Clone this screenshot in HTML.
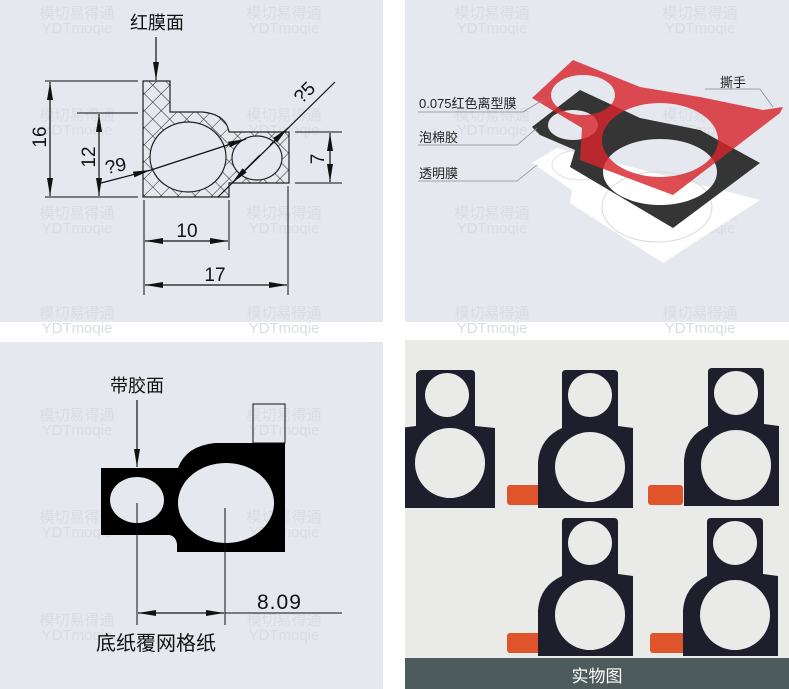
<!DOCTYPE html>
<html><head><meta charset="utf-8"><style>
html,body{margin:0;padding:0;background:#fff;}
svg{display:block;}
text{font-family:"Liberation Sans","Noto Sans CJK SC",sans-serif;}
.wm{fill:#d9dce3;font-size:15px;}
</style></head><body>
<svg width="789" height="689" viewBox="0 0 789 689" xmlns="http://www.w3.org/2000/svg">
<defs>
<pattern id="hx" width="12" height="12" patternUnits="userSpaceOnUse" patternTransform="rotate(45)">
<rect width="12" height="12" fill="#e6e8ee"/>
<line x1="0" y1="0" x2="0" y2="12" stroke="#222" stroke-width="1"/>
<line x1="0" y1="0" x2="12" y2="0" stroke="#222" stroke-width="1"/>
</pattern>
<marker id="ar2" viewBox="0 0 18 6" refX="18" refY="3" markerWidth="18" markerHeight="6" orient="auto" markerUnits="userSpaceOnUse"><path d="M0,0 L18,3 L0,6 Z" fill="#111"/></marker>
<path id="card" fill-rule="evenodd" fill="#1e1e2c" d="M4,0 H52 Q56,0 56,4 V56 L71,58 V138 H-24 V92 Q-22,68 0,58 V4 Q0,0 4,0 Z M28,3 a22,22 0 1,0 0.01,0 Z M28,62 a35,35 0 1,0 0.01,0 Z"/>
<clipPath id="ph"><rect x="405" y="340" width="384" height="318"/></clipPath>
</defs>

<rect x="0" y="0" width="383" height="322" fill="#e5e8ee"/>
<rect x="405" y="0" width="384" height="322" fill="#e5e8ee"/>
<rect x="0" y="342" width="383" height="347" fill="#e5e8ee"/>
<rect x="405" y="340" width="384" height="318" fill="#eaeae8"/>
<rect x="405" y="658" width="384" height="31" fill="#4d5b5d"/>

<g class="wm" text-anchor="middle">
<text x="77" y="18">模切易得通</text><text x="77" y="33">YDTmoqie</text>
<text x="284" y="18">模切易得通</text><text x="284" y="33">YDTmoqie</text>
<text x="77" y="120">模切易得通</text><text x="77" y="135">YDTmoqie</text>
<text x="284" y="120">模切易得通</text><text x="284" y="135">YDTmoqie</text>
<text x="77" y="218">模切易得通</text><text x="77" y="233">YDTmoqie</text>
<text x="284" y="218">模切易得通</text><text x="284" y="233">YDTmoqie</text>
<text x="77" y="318">模切易得通</text><text x="77" y="333">YDTmoqie</text>
<text x="284" y="318">模切易得通</text><text x="284" y="333">YDTmoqie</text>
<text x="492" y="18">模切易得通</text><text x="492" y="33">YDTmoqie</text>
<text x="700" y="18">模切易得通</text><text x="700" y="33">YDTmoqie</text>
<text x="492" y="120">模切易得通</text><text x="492" y="135">YDTmoqie</text>
<text x="700" y="120">模切易得通</text><text x="700" y="135">YDTmoqie</text>
<text x="492" y="218">模切易得通</text><text x="492" y="233">YDTmoqie</text>
<text x="700" y="218">模切易得通</text><text x="700" y="233">YDTmoqie</text>
<text x="492" y="318">模切易得通</text><text x="492" y="333">YDTmoqie</text>
<text x="700" y="318">模切易得通</text><text x="700" y="333">YDTmoqie</text>
<text x="77" y="420">模切易得通</text><text x="77" y="435">YDTmoqie</text>
<text x="284" y="420">模切易得通</text><text x="284" y="435">YDTmoqie</text>
<text x="77" y="522">模切易得通</text><text x="77" y="537">YDTmoqie</text>
<text x="284" y="522">模切易得通</text><text x="284" y="537">YDTmoqie</text>
<text x="77" y="625">模切易得通</text><text x="77" y="640">YDTmoqie</text>
<text x="284" y="625">模切易得通</text><text x="284" y="640">YDTmoqie</text>
</g>

<text x="157" y="29" font-size="18" text-anchor="middle" fill="#111">红膜面</text>
<line x1="156" y1="37" x2="156" y2="80" stroke="#111" stroke-width="1.2" marker-end="url(#ar2)"/>
<path fill="url(#hx)" fill-rule="evenodd" stroke="#222" stroke-width="1.2"
 d="M143,81 H170 V112 H202 Q226,114 229,132 H289 V183 H229 V197 H143 Z
    M188,122 a38,35 0 1,0 0.01,0 Z M257,136 a25,22 0 1,0 0.01,0 Z"/>
<g stroke="#111" stroke-width="1" fill="none">
<line x1="45" y1="81" x2="138" y2="81"/><line x1="45" y1="197" x2="138" y2="197"/>
<line x1="77" y1="113" x2="138" y2="113"/>
<line x1="295" y1="132" x2="342" y2="132"/><line x1="295" y1="183" x2="342" y2="183"/>
<line x1="144" y1="200" x2="144" y2="295"/><line x1="229" y1="200" x2="229" y2="250"/>
<line x1="288" y1="186" x2="288" y2="295"/>
</g>
<g stroke="#111" stroke-width="1.2">
<line x1="50" y1="140" x2="50" y2="82" marker-end="url(#ar2)"/><line x1="50" y1="140" x2="50" y2="196" marker-end="url(#ar2)"/>
<line x1="99" y1="155" x2="99" y2="114" marker-end="url(#ar2)"/><line x1="99" y1="155" x2="99" y2="196" marker-end="url(#ar2)"/>
<line x1="330" y1="158" x2="330" y2="133" marker-end="url(#ar2)"/><line x1="330" y1="158" x2="330" y2="182" marker-end="url(#ar2)"/>
<line x1="186" y1="241" x2="145" y2="241" marker-end="url(#ar2)"/><line x1="186" y1="241" x2="228" y2="241" marker-end="url(#ar2)"/>
<line x1="216" y1="285" x2="145" y2="285" marker-end="url(#ar2)"/><line x1="216" y1="285" x2="287" y2="285" marker-end="url(#ar2)"/>
<line x1="101" y1="183" x2="151" y2="170" marker-end="url(#ar2)"/><line x1="151" y1="170" x2="246" y2="139" marker-end="url(#ar2)"/>
<line x1="335" y1="82" x2="218" y2="197"/>
<line x1="270" y1="145" x2="288" y2="128" marker-end="url(#ar2)"/><line x1="260" y1="155" x2="232" y2="183" marker-end="url(#ar2)"/>
</g>
<g font-family="'DejaVu Sans',sans-serif" font-size="19" fill="#111">
<text transform="translate(46,137) rotate(-90)" text-anchor="middle">16</text>
<text transform="translate(95,157) rotate(-90)" text-anchor="middle">12</text>
<text transform="translate(324,159) rotate(-90)" text-anchor="middle">7</text>
<text x="187" y="237" text-anchor="middle">10</text>
<text x="215" y="281" text-anchor="middle">17</text>
<text transform="translate(117,172) rotate(-12)" text-anchor="middle">?9</text>
<text transform="translate(309,97) rotate(-45)" text-anchor="middle">?5</text>
</g>

<path fill="#ffffff" fill-rule="evenodd" d="M532,163 L557,148 L760,200 L663,263 L570,203 L572,190 Z"/>
<ellipse cx="657" cy="207" rx="55" ry="35" fill="none" stroke="#d8d8d8" stroke-width="1"/>
<ellipse cx="580" cy="165" rx="28" ry="15" fill="none" stroke="#e0e0e0" stroke-width="1"/>
<path fill="#353535" fill-rule="evenodd" d="M532,127 L580,90 L640,118 L700,130 L760,163 L673,228 L570,167 L575,150 L540,135 Z M573,110 a25,15 0 1,0 0.01,0 Z M660,139 a57,33 0 1,0 0.01,0 Z"/>
<path fill="#d8262d" fill-opacity="0.82" fill-rule="evenodd" d="M573,60 L640,87 L700,97 L763,110 L783,107 L780,113 L673,195 L580,160 L582,128 L532,98 Z M583,75 a32,20 0 1,0 0.01,0 Z M660,103 a58,37 0 1,0 0.01,0 Z"/>
<g stroke="#8a8a8a" stroke-width="0.8" fill="none">
<polyline points="705,89 760,89 773,107"/>
<polyline points="418,112 523,112 543,100"/>
<polyline points="418,145 517,145 537,128"/>
<polyline points="418,181 517,181 537,165"/>
</g>
<g font-size="13" fill="#222">
<text x="720" y="87">撕手</text>
<text x="419" y="108">0.075红色离型膜</text>
<text x="419" y="142">泡棉胶</text>
<text x="419" y="178">透明膜</text>
</g>

<text x="137" y="392" font-size="18" text-anchor="middle" fill="#111">带胶面</text>
<line x1="137" y1="400" x2="137" y2="467" stroke="#111" stroke-width="1.2" marker-end="url(#ar2)"/>
<rect x="253" y="404" width="32" height="39" fill="none" stroke="#111" stroke-width="1"/>
<path fill="#000" fill-rule="evenodd" d="M101,468 H178 Q186,446 215,443 H285 V552 H177 V544 Q176,537 170,535 H101 Z
 M137,477 a27,23 0 1,0 0.01,0 Z M226,463 a48,40 0 1,0 0.01,0 Z"/>
<g stroke="#111" stroke-width="1">
<line x1="137" y1="503" x2="137" y2="625"/><line x1="225" y1="508" x2="225" y2="625"/>
<line x1="225" y1="613" x2="342" y2="613"/>
</g>
<g stroke="#111" stroke-width="1.2">
<line x1="181" y1="613" x2="138" y2="613" marker-end="url(#ar2)"/><line x1="181" y1="613" x2="224" y2="613" marker-end="url(#ar2)"/>
</g>
<text x="257" y="609" font-family="'DejaVu Sans Mono',monospace" font-size="21" fill="#111" letter-spacing="1">8.09</text>
<text x="156" y="650" font-size="20" text-anchor="middle" fill="#111">底纸覆网格纸</text>

<g clip-path="url(#ph)">
<rect x="507" y="485" width="35" height="20" rx="3" fill="#e0542c"/>
<rect x="648" y="485" width="35" height="20" rx="3" fill="#e0542c"/>
<rect x="507" y="633" width="35" height="20" rx="3" fill="#e0542c"/>
<rect x="650" y="633" width="35" height="20" rx="3" fill="#e0542c"/>
<path fill="#1e1e2c" fill-rule="evenodd" d="M422,370 H471 Q475,370 475,374 V426 L495,428 V508 H400 V428 L416,426 V374 Q418,370 422,370 Z M447,373 a22,22 0 1,0 0.01,0 Z M450,428 a35,35 0 1,0 0.01,0 Z"/>
<use href="#card" x="562" y="370"/>
<use href="#card" x="708" y="368"/>
<use href="#card" x="562" y="518"/>
<use href="#card" x="707" y="518"/>
</g>
<text x="597" y="682" font-size="17" text-anchor="middle" fill="#fff">实物图</text>
</svg>
</body></html>
